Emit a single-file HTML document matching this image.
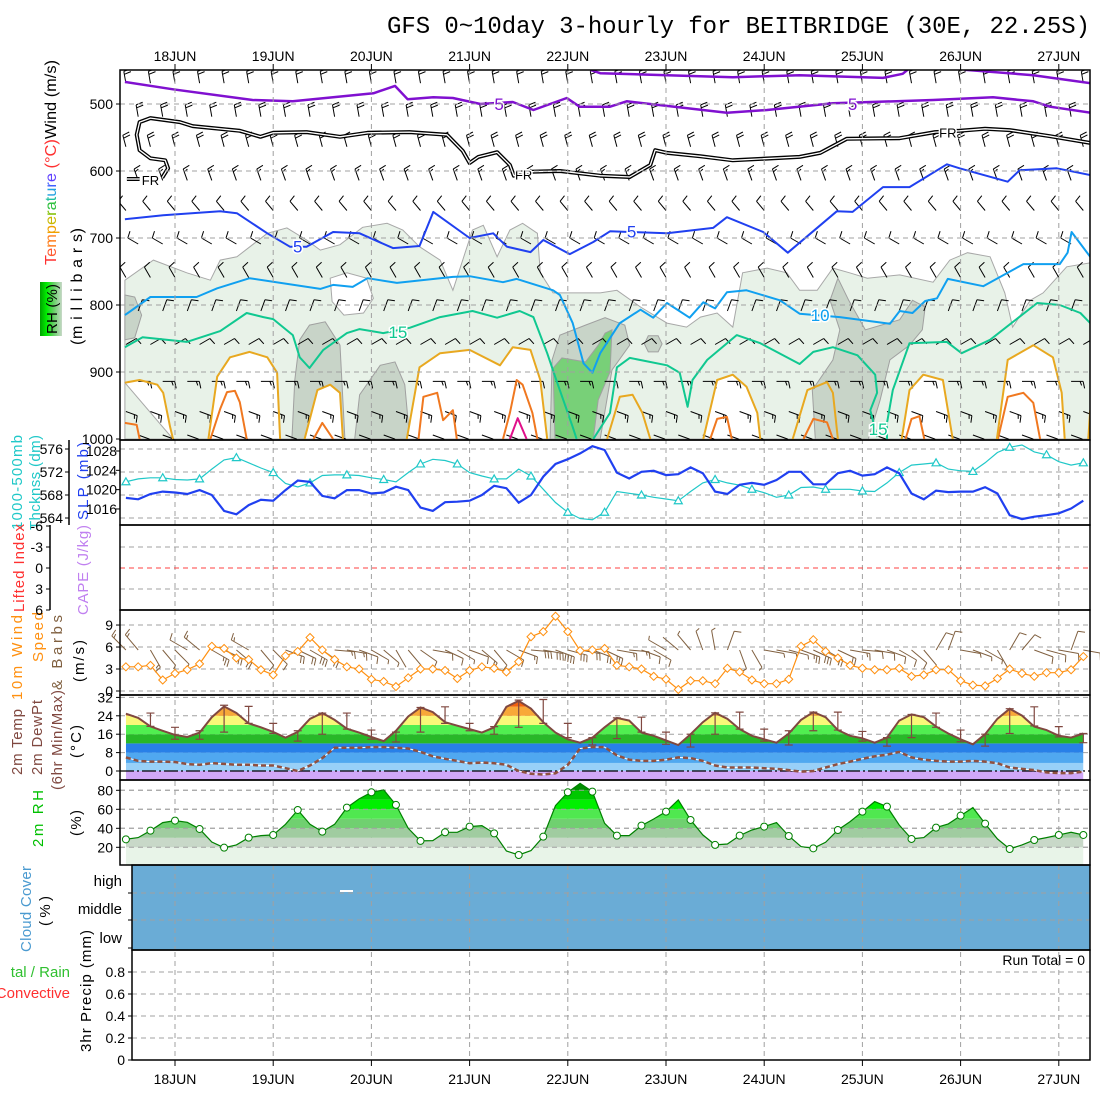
<!DOCTYPE html>
<html><head><meta charset="utf-8"><title>GFS meteogram BEITBRIDGE</title>
<style>
html,body{margin:0;padding:0;background:#fff;}
svg{display:block;font-family:"Liberation Sans",sans-serif;}
</style></head>
<body>
<svg id="chart" xmlns="http://www.w3.org/2000/svg" width="1100" height="1100" viewBox="0 0 1100 1100">
<defs>
<clipPath id="clipUp"><rect x="120" y="70" width="970" height="370"/></clipPath>
<linearGradient id="rhbox" x1="0" y1="0" x2="1" y2="0">
<stop offset="0" stop-color="#00a000"/><stop offset="0.3" stop-color="#00ee00"/><stop offset="0.6" stop-color="#60d060"/><stop offset="1" stop-color="#c8d8c8"/></linearGradient>
</defs>
<rect x="0" y="0" width="1100" height="1100" fill="#fff"/>
<text x="1090" y="33" text-anchor="end" font-family="Liberation Mono, monospace" font-size="24" textLength="703">GFS 0~10day 3-hourly for BEITBRIDGE (30E, 22.25S)</text>

<g font-size="16">
<text transform="translate(56,265) rotate(-90)" textLength="205" lengthAdjust="spacingAndGlyphs"><tspan fill="#ff3030">T</tspan><tspan fill="#ff5a30">e</tspan><tspan fill="#ff8020">m</tspan><tspan fill="#f0a000">p</tspan><tspan fill="#c8b800">e</tspan><tspan fill="#80c000">r</tspan><tspan fill="#30c040">a</tspan><tspan fill="#20c0a0">t</tspan><tspan fill="#20a0e0">u</tspan><tspan fill="#4060ff">r</tspan><tspan fill="#6040ff">e</tspan><tspan fill="#ff3030"> (°C)</tspan><tspan fill="#000">Wind (m/s)</tspan></text>
<text transform="translate(82,345) rotate(-90)" textLength="117" lengthAdjust="spacing">(m i l l i b a r s)</text>
<rect x="40" y="282" width="22" height="54" fill="url(#rhbox)"/>
<text transform="translate(57,334) rotate(-90)" font-size="15" textLength="50">RH (%)</text>
</g>
<g font-size="15">
<text transform="translate(22,530) rotate(-90)" fill="#20c8c8" textLength="95">1000-500mb</text>
<text transform="translate(40,530) rotate(-90)" fill="#20c8c8" textLength="95">Thcknss (dm)</text>
<text transform="translate(88,520) rotate(-90)" fill="#2040f0" textLength="78">SLP (mb)</text>
<text transform="translate(24,612) rotate(-90)" fill="#ff3030" textLength="88">Lifted Index</text>
<text transform="translate(88,615) rotate(-90)" fill="#c080f0" textLength="90">CAPE (J/kg)</text>
<text transform="translate(22,700) rotate(-90)" fill="#ff9010" textLength="85">10m Wind</text>
<text transform="translate(43,662) rotate(-90)" fill="#ff9010" textLength="50">Speed</text>
<text transform="translate(62,690) rotate(-90)" fill="#806040" textLength="75">&amp; Barbs</text>
<text transform="translate(84,682) rotate(-90)" fill="#000" textLength="42">(m/s)</text>
<text transform="translate(22,775) rotate(-90)" fill="#804840" textLength="66">2m Temp</text>
<text transform="translate(42,775) rotate(-90)" fill="#804840" textLength="75">2m DewPt</text>
<text transform="translate(62,790) rotate(-90)" fill="#804840" textLength="100">(6hr Min/Max)</text>
<text transform="translate(81,758) rotate(-90)" fill="#000" textLength="33">(°C)</text>
<text transform="translate(43,847) rotate(-90)" fill="#00c000" textLength="57">2m RH</text>
<text transform="translate(81,836) rotate(-90)" fill="#000" textLength="26">(%)</text>
<text transform="translate(31,952) rotate(-90)" fill="#4a9ad0" textLength="86">Cloud Cover</text>
<text transform="translate(50,926) rotate(-90)" fill="#000" textLength="30">(%)</text>
<text x="70" y="977" text-anchor="end" fill="#30c030">tal / Rain</text>
<text x="70" y="998" text-anchor="end" fill="#ff3030">Convective</text>
<text transform="translate(91,1052) rotate(-90)" fill="#000" textLength="122">3hr Precip (mm)</text>
<text x="122" y="886" text-anchor="end">high</text>
<text x="122" y="914" text-anchor="end">middle</text>
<text x="122" y="943" text-anchor="end">low</text>
<text x="1085" y="965" text-anchor="end" font-size="14">Run Total = 0</text>
</g>
<g id="plot"></g>
</svg>
<script>
// ---------------- data ----------------
const dayLabels = ["18JUN","19JUN","20JUN","21JUN","22JUN","23JUN","24JUN","25JUN","26JUN","27JUN"];
const pressureTicks = [500,600,700,800,900,1000];
const thickTicks = [576,572,568,564];
const slpTicks = [1028,1024,1020,1016];
const liTicks = [-6,-3,0,3,6];
const windTicks = [9,6,3,0];
const tempTicks = [32,24,16,8,0];
const rhTicks = [80,60,40,20];
const precipTicks = [0.8,0.6,0.4,0.2,0];

const thickness = [570.3,570.8,571.0,571.0,570.7,570.6,570.8,572.5,574.1,574.5,573.6,572.7,571.9,570.0,569.4,570.1,571.4,571.5,571.5,571.4,571.0,570.7,570.3,571.9,573.4,574.2,574.0,573.4,571.9,571.3,570.8,570.8,572.5,571.3,569.0,566.7,565.0,563.9,563.7,565.0,568.6,568.3,568.0,567.6,567.3,567.0,568.6,570.1,570.7,570.1,569.7,569.0,568.4,567.6,568.0,569.3,569.4,569.0,569.0,569.0,568.7,568.6,570.1,571.9,573.2,573.4,573.6,572.5,572.2,572.1,573.6,575.4,576.3,576.7,575.5,575.0,573.8,573.2,573.6];
const slp = [1018.3,1018.0,1019.1,1019.6,1019.4,1019.1,1019.9,1018.9,1015.6,1014.9,1016.8,1017.9,1017.7,1019.9,1021.9,1021.6,1018.7,1018.2,1019.9,1019.9,1019.2,1019.4,1020.6,1019.9,1016.3,1015.6,1017.4,1017.5,1017.7,1018.9,1020.8,1020.3,1017.3,1018.9,1022.7,1025.3,1026.3,1027.5,1029.0,1028.2,1023.5,1022.3,1023.7,1023.9,1023.0,1023.2,1024.6,1023.4,1019.6,1019.1,1021.0,1021.4,1021.0,1022.0,1023.7,1023.7,1021.1,1021.1,1023.4,1023.9,1022.9,1023.2,1024.6,1023.4,1019.2,1018.0,1019.8,1019.5,1019.6,1019.6,1020.5,1019.2,1014.7,1013.9,1014.4,1014.7,1015.1,1016.1,1017.7];
const windSpeed = [3.3,3.3,3.5,1.5,2.4,2.9,3.7,6.1,5.8,4.5,4.3,2.9,2.2,4.8,5.4,7.3,5.6,4.3,3.3,3.0,1.6,1.3,0.6,1.8,3.0,3.0,2.8,1.7,2.8,3.3,3.1,2.6,4.0,7.4,8.1,10.2,8.1,5.5,5.6,5.8,3.5,3.3,3.0,2.0,1.6,0.2,1.4,1.4,1.0,3.1,2.6,1.5,1.0,1.0,1.6,6.1,7.0,5.4,4.5,3.5,3.1,2.9,2.9,3.1,2.0,2.2,2.9,2.9,1.4,0.8,0.7,1.7,3.0,2.4,2.0,2.5,2.5,2.9,4.7];
const windDir10 = [315,320,150,140,135,300,310,120,115,130,300,140,135,110,115,120,125,95,100,110,120,130,150,140,125,100,115,120,110,130,140,120,110,95,100,110,105,100,110,115,100,95,110,120,300,310,320,340,350,20,160,150,100,100,105,110,115,120,115,100,95,100,110,120,130,140,30,20,100,110,120,150,30,40,110,105,100,20,100];
const temp2m = [24.9,23.1,19.4,17.5,15.7,14.8,16.7,23.4,28.1,25.2,20.7,19.0,17.0,14.5,17.0,22.7,25.2,22.2,18.4,16.7,14.8,13.0,17.5,23.7,27.6,25.6,21.2,19.7,18.2,16.7,19.0,27.9,30.5,27.1,21.2,16.7,13.8,12.3,14.5,19.0,23.1,21.9,16.7,15.3,13.3,11.3,16.0,21.2,25.3,22.7,18.2,15.3,13.8,12.3,16.3,22.2,25.6,23.4,17.8,15.3,14.2,12.3,14.5,21.9,24.6,23.4,19.3,16.3,13.8,11.6,16.0,22.7,27.1,24.1,19.3,17.8,15.3,14.5,16.3];
const dewPt2m = [5.9,4.4,4.1,4.1,3.9,3.0,2.7,3.4,3.1,2.7,2.7,2.4,2.4,1.2,0.0,2.4,5.6,10.1,10.1,10.1,10.4,10.4,10.1,9.8,8.3,6.4,5.3,4.4,3.4,3.7,3.4,2.7,0.0,-1.2,-1.5,-1.0,2.7,9.8,10.4,10.4,6.8,4.9,4.4,4.4,4.9,5.9,5.6,4.4,2.4,1.5,1.5,1.5,1.2,0.9,0.4,-0.3,0.0,1.5,3.0,4.1,5.3,6.4,7.1,8.3,5.9,4.9,4.4,4.1,4.1,4.4,4.1,3.4,1.5,0.9,0.4,-0.6,-0.9,-0.9,-0.3];
const barIdx = [2,4,6,8,10,12,14,16,18,20,22,24,26,28,30,32,34,36,38,40,42,44,46,48,50,52,54,56,58,60,62,64,66,68,70,72,74,76,78];
const barHi = [25.2,19.0,17.5,28.6,28.1,20.7,17.5,25.2,25.2,17.8,16.9,27.6,27.9,20.7,19.3,30.8,31.1,20.7,14.5,23.1,23.4,16.9,16.0,25.3,25.6,18.2,17.5,25.6,25.6,17.2,14.5,24.6,25.2,17.8,16.0,27.1,27.9,19.3,16.3];
const barLo = [19.4,13.8,13.8,16.9,20.7,16.3,13.0,16.0,18.2,13.8,12.6,16.9,20.7,17.5,16.0,19.0,20.7,14.5,11.3,14.1,16.9,11.6,10.4,16.0,18.2,13.0,11.3,17.5,17.8,13.0,10.8,14.5,19.0,12.7,10.8,16.3,19.6,14.8,12.3];
const rh2m = [28.4,30.2,37.5,46.0,48.1,46.3,39.3,25.6,19.6,22.5,30.2,32.3,33.0,44.2,59.3,44.2,36.5,44.2,61.8,70.9,77.9,80.4,64.6,40.0,26.7,27.0,35.8,35.8,41.8,42.8,34.7,16.1,11.9,16.5,31.2,63.9,77.9,87.4,78.6,45.3,32.3,32.3,42.8,49.8,57.5,69.8,48.8,33.0,22.5,23.5,32.3,38.2,41.8,46.0,31.9,20.7,18.9,25.3,38.2,47.0,57.5,68.1,62.8,43.5,28.8,30.2,40.7,44.6,53.3,61.8,44.9,28.8,18.2,22.5,27.7,30.2,33.0,35.8,33.0];

// upper-air wind per level
const barbLevels = [460,510,555,605,650,700,750,800,850,905,950,985];
const barbDirs = [350,350,345,340,320,300,330,20,60,90,110,110];
const barbSpeeds = [10,10,10,7.5,5,5,5,5,5,7.5,7.5,5];

// contours as [day offset from 18JUN00, hPa]
const isoM5 = [[-0.51,467],[-0.02,478],[0.79,494],[1.20,496],[2.02,484],[2.24,473],[2.37,493],[2.63,490],[2.83,491],[3.11,500],[3.44,497],[3.65,509],[3.99,491],[4.12,504],[4.43,504],[4.60,496],[5.62,513],[6.03,509],[6.70,499],[7.72,494],[8.33,490],[8.74,496],[8.91,504],[9.32,513]];
const isoM10a = [[4.23,449],[4.33,454],[5.01,457],[5.68,460],[6.36,457],[7.21,461],[7.41,455],[7.46,449]];
const isoM10b = [[8.04,449],[8.74,457],[9.32,469]];
const isoFR = [[-0.13,610],[-0.07,596],[-0.10,584],[-0.25,581],[-0.36,569],[-0.39,546],[-0.36,527],[-0.25,521],[0.05,527],[0.18,533],[0.66,540],[0.87,549],[1.0,543],[1.34,542],[1.68,549],[1.96,543],[2.39,542],[2.77,546],[2.93,570],[3.0,588],[3.09,579],[3.28,572],[3.41,591],[3.45,607],[3.62,601],[3.92,600],[4.33,607],[4.63,609],[4.84,591],[4.89,569],[5.01,573],[5.35,578],[5.68,584],[6.36,579],[6.57,573],[6.84,552],[7.38,551],[7.74,542],[7.99,540],[8.25,537],[8.50,539],[8.91,548],[9.32,558]];
const isoFRstub = [[-0.49,612],[-0.36,612]];
const iso5 = [[-0.51,672],[-0.12,666],[0.46,660],[0.63,663],[0.94,693],[1.17,713],[1.34,713],[1.61,691],[1.88,693],[2.22,715],[2.49,712],[2.63,661],[3.0,700],[3.24,693],[3.38,713],[3.62,721],[3.75,703],[4.02,724],[4.26,706],[4.43,690],[5.01,693],[5.48,685],[5.62,669],[5.99,691],[6.24,722],[6.74,660],[6.90,661],[7.21,624],[7.48,624],[7.86,590],[7.99,596],[8.48,616],[8.60,599],[8.98,596],[9.32,606]];
const iso10 = [[-0.51,815],[-0.25,788],[0.22,788],[0.43,775],[0.76,760],[1.48,776],[1.61,770],[1.81,773],[1.96,760],[2.26,767],[2.83,758],[3.0,757],[3.34,766],[3.48,761],[3.85,778],[3.92,785],[4.05,827],[4.16,887],[4.25,901],[4.33,872],[4.53,827],[4.74,807],[4.87,819],[5.01,797],[5.24,819],[5.38,796],[5.50,805],[5.62,781],[5.82,778],[6.16,793],[6.36,813],[6.77,818],[7.28,828],[7.38,809],[7.51,812],[7.64,794],[7.76,790],[7.87,761],[8.23,772],[8.64,739],[9.01,739],[9.09,722],[9.13,691],[9.32,728]];
const iso15a = [[-0.51,863],[-0.33,848],[0.12,855],[0.46,839],[0.73,812],[0.90,818],[1.0,821],[1.20,845],[1.27,878],[1.37,894],[1.51,867],[1.75,842],[1.88,836],[2.12,842],[2.39,834],[2.70,818],[3.03,809],[3.28,819],[3.51,809],[3.65,818],[3.79,872],[3.89,915],[4.05,982],[4.09,1000]];
const iso15b = [[4.26,1000],[4.43,961],[4.50,893],[4.63,879],[5.01,890],[5.14,901],[5.22,952],[5.27,912],[5.42,882],[5.72,845],[5.96,857],[6.36,888],[6.50,870],[6.70,863],[6.95,875],[7.13,904],[7.15,931],[7.08,957],[7.15,997]];
const iso15c = [[7.25,1000],[7.25,976],[7.31,927],[7.48,857],[7.86,855],[8.01,872],[8.30,852],[8.78,797],[9.01,800],[9.22,812],[9.32,827]];
const iso20 = [
 [[-0.51,916],[-0.36,912],[-0.18,919],[-0.12,931],[-0.05,982],[-0.02,1000]],
 [[0.34,1000],[0.43,907],[0.56,878],[0.76,870],[0.94,878],[1.04,901],[1.07,1000]],
 [[1.32,1000],[1.45,927],[1.58,919],[1.68,931],[1.71,1000]],
 [[2.36,1000],[2.49,893],[2.70,872],[3.0,867],[3.31,890],[3.44,863],[3.62,867],[3.72,912],[3.79,1000]],
 [[4.40,1000],[4.53,937],[4.66,934],[4.76,961],[4.84,1000]],
 [[5.38,1000],[5.52,912],[5.68,904],[5.82,922],[5.93,961],[5.96,1000]],
 [[6.29,1000],[6.44,927],[6.64,915],[6.70,931],[6.75,1000]],
 [[7.40,1000],[7.48,927],[7.62,904],[7.82,912],[7.92,1000]],
 [[8.37,1000],[8.48,882],[8.74,860],[8.94,878],[9.03,931],[9.06,1000]],
 [[9.30,1000],[9.32,957]]];
const iso25 = [
 [[-0.51,976],[-0.39,979],[-0.36,1000]],
 [[0.36,1000],[0.46,955],[0.53,930],[0.61,928],[0.66,945],[0.73,1000]],
 [[1.41,1000],[1.50,976],[1.61,1000]],
 [[2.48,1000],[2.53,937],[2.67,931],[2.73,972],[2.83,957],[2.87,1000]],
 [[3.34,1000],[3.41,961],[3.48,912],[3.54,919],[3.64,961],[3.69,1000]],
 [[5.45,1000],[5.52,970],[5.62,967],[5.67,1000]],
 [[6.40,1000],[6.50,970],[6.64,975],[6.70,1000]],
 [[7.44,1000],[7.50,970],[7.58,966],[7.63,1000]],
 [[8.38,1000],[8.48,937],[8.64,931],[8.74,946],[8.81,1000]]];
const iso30 = [[3.41,1000],[3.49,969],[3.58,1000]];
const rhLightTop = [[-0.51,763],[-0.22,733],[0.12,752],[0.36,763],[0.46,733],[0.63,728],[0.94,693],[1.14,685],[1.34,703],[1.48,718],[1.68,710],[1.91,684],[2.16,678],[2.32,688],[2.49,713],[2.70,733],[2.83,778],[2.93,733],[3.03,688],[3.14,681],[3.28,728],[3.41,688],[3.54,678],[3.69,693],[3.72,752],[3.85,782],[4.33,782],[4.50,778],[4.74,803],[5.01,827],[5.21,833],[5.35,818],[5.52,812],[5.68,833],[5.78,752],[6.03,745],[6.23,752],[6.36,778],[6.54,778],[6.70,745],[6.87,752],[7.05,760],[7.38,755],[7.72,766],[7.89,733],[8.07,722],[8.30,728],[8.45,782],[8.53,833],[8.71,793],[8.84,782],[9.08,743],[9.32,737]];
const rhHole = [[1.58,760],[1.75,752],[1.95,760],[2.02,790],[1.92,812],[1.72,815],[1.6,795]];
const rhGrey = [
 [[1.19,1000],[1.22,912],[1.27,852],[1.37,830],[1.53,825],[1.68,860],[1.73,1000]],
 [[1.83,1000],[1.88,934],[2.09,890],[2.24,885],[2.34,919],[2.39,1000]],
 [[3.82,1000],[3.84,882],[3.92,845],[4.18,830],[4.38,819],[4.58,830],[4.63,860],[4.45,897],[4.33,1000]],
 [[6.52,1000],[6.49,927],[6.70,882],[6.77,837],[6.67,793],[6.75,760],[6.86,793],[7.03,837],[7.38,822],[7.51,793],[7.64,803],[7.61,837],[7.48,860],[7.28,882],[7.18,942],[7.06,1000]],
 [[-0.51,785],[-0.41,788],[-0.34,815],[-0.41,849],[-0.51,852]],
 [[4.78,858],[4.82,846],[4.92,846],[4.96,858],[4.92,870],[4.82,870]]];
const rhGreen = [[3.87,1000],[3.85,894],[3.94,879],[4.18,885],[4.31,860],[4.38,842],[4.45,837],[4.43,900],[4.31,942],[4.26,1000]];
const whiteArches = [0,1,2,3,5,7,8];

// ---------------- scales ----------------
const XD = d => 175 + d*98.2;
const X = i => XD(-0.5 + i/8);
const Yp = p => 104 + (p-500)*0.67;
const Yth = v => 449 + (576-v)*5.75;
const Ys = v => 451 + (1028-v)*4.83;
const Yli = v => 568 + v*7;
const Yw = v => 691 - v*7.33;
const Yt = v => 771 - v*2.3;
const Yr = v => 866.3 - v*0.95;
const Ypr = v => 1060 - v*110;

const NS = 'http://www.w3.org/2000/svg';
const root = document.getElementById('plot');
function mk(tag, attrs, parent){
  const e = document.createElementNS(NS, tag);
  for (const k in attrs) e.setAttribute(k, attrs[k]);
  (parent||root).appendChild(e);
  return e;
}
const ptsDP = arr => arr.map(q => XD(q[0]).toFixed(1)+','+Yp(q[1]).toFixed(1)).join(' ');
const ptsSeries = (arr, fy) => arr.map((v,i) => X(i).toFixed(1)+','+fy(v).toFixed(1)).join(' ');

// ---------------- upper panel shading ----------------
const up = mk('g', {'clip-path':'url(#clipUp)'});


const lightPoly = rhLightTop.concat([[9.32,1000],[-0.51,1000]]);
let e = mk('polygon', {points: ptsDP(lightPoly), fill:'#e8f2e8', stroke:'#a8a8a8', 'stroke-width':1}, up);


for (const g of rhGrey) {
  e = mk('polygon', {points: ptsDP(g), fill:'#c8d4c8', stroke:'#a0a0a0', 'stroke-width':1}, up);
  
  
}
e = mk('polygon', {points: ptsDP(rhGreen), fill:'#78d078', stroke:'#a0a0a0', 'stroke-width':1}, up);


for (const k of whiteArches) {
  e = mk('polygon', {points: ptsDP(iso20[k]), fill:'#fff', stroke:'#a8a8a8', 'stroke-width':1}, up);
  
  
}
e = mk('polygon', {points: ptsDP(rhHole), fill:'#fff', stroke:'#a8a8a8', 'stroke-width':1}, up);



// grid
const grid = mk('g', {stroke:'#a0a0a0', 'stroke-width':1, 'stroke-dasharray':'5,4', fill:'none'});


for (let k = 0; k < dayLabels.length; k++) {
  e = mk('line', {x1:XD(k), x2:XD(k), y1:70, y2:1060}, grid);
  
  
}
function hgrid(y, x0){ const l = mk('line', {x1:x0||120, x2:1090, y1:y, y2:y}, grid);
  
   }
pressureTicks.slice(0,5).forEach(p => hgrid(Yp(p)));
thickTicks.forEach(v => hgrid(Yth(v)));
[-3,3].forEach(v => hgrid(Yli(v)));
windTicks.forEach(v => hgrid(Yw(v)));
tempTicks.slice(0,4).forEach(v => hgrid(Yt(v)));
rhTicks.forEach(v => hgrid(Yr(v)));
precipTicks.slice(0,4).forEach(v => hgrid(Ypr(v), 132));

// wind barbs
function barb(parent, x, y, dir, spd, L, color, name){
  const r = dir*Math.PI/180;
  const ux = Math.sin(r), uy = -Math.cos(r);
  const tx = x + ux*L, ty = y + uy*L;
  let d = 'M'+x.toFixed(1)+','+y.toFixed(1)+'L'+tx.toFixed(1)+','+ty.toFixed(1);
  const px = -uy, py = ux;
  let n = Math.round(spd/2.5), pos = 0;
  while (n > 0) {
    const bx = tx - ux*pos, by = ty - uy*pos;
    const bl = n >= 2 ? 7 : 4;
    d += 'M'+bx.toFixed(1)+','+by.toFixed(1)+'l'+((px*bl+ux*1.5)).toFixed(1)+','+((py*bl+uy*1.5)).toFixed(1);
    n -= 2; pos += 3;
  }
  const b = mk('path', {d:d, stroke:color, 'stroke-width':1, fill:'none'}, parent);
  
  
}
const barbG = mk('g', {}, up);


barbLevels.forEach((lev, li) => {
  for (let i = li % 2; i < 79; i += 2) {
    barb(barbG, X(i), Yp(lev)+6, barbDirs[li], barbSpeeds[li], 12, '#000', 'upper-wind-barb');
  }
});

// contour lines
function cline(arr, color, w, name){
  const l = mk('polyline', {points: ptsDP(arr), fill:'none', stroke:color, 'stroke-width':w, 'stroke-linejoin':'round'}, up);
  
  
}
iso25.forEach(a => cline(a, '#f07820', 2, 'isotherm-25c'));
iso20.forEach(a => cline(a, '#e8a820', 2, 'isotherm-20c'));
cline(iso30, '#e0108a', 2, 'isotherm-30c');
[iso15a, iso15b, iso15c].forEach(a => cline(a, '#10c890', 2, 'isotherm-15c'));
cline(iso10, '#10a0f0', 2, 'isotherm-10c');
cline(iso5, '#2040f0', 2, 'isotherm-5c');
cline(isoFR, '#000', 4, 'freezing-level-outer');
cline(isoFR, '#fff', 1.3, 'freezing-level-inner');
cline(isoFRstub, '#000', 4, 'freezing-level-stub');
cline(isoFRstub, '#fff', 1.3, 'freezing-level-stub-inner');
cline(isoM5, '#8010d0', 2.5, 'isotherm-minus5c');
cline(isoM10a, '#8010d0', 2.5, 'isotherm-minus10c');
cline(isoM10b, '#8010d0', 2.5, 'isotherm-minus10c');

const clabels = [
  ['5', 3.30, 500, '#8010d0'], ['5', 6.90, 500, '#8010d0'],
  ['FR', -0.25, 612, '#000'], ['FR', 3.55, 604, '#000'], ['FR', 7.87, 541, '#000'],
  ['5', 1.25, 713, '#2040f0'], ['5', 4.65, 690, '#2040f0'],
  ['10', 6.57, 815, '#10a0f0'], ['15', 2.27, 840, '#10c890'], ['15', 7.16, 985, '#10c890']
];
clabels.forEach(c => {
  const t = mk('text', {x: XD(c[1]), y: Yp(c[2])+6, 'text-anchor':'middle', fill:c[3], 'font-size': c[3]==='#000'?13:17, stroke:'#fff', 'stroke-width':3, 'paint-order':'stroke'}, up);
  t.textContent = c[0];
  
  
});

// ---------------- thickness / SLP ----------------
e = mk('polyline', {points: ptsSeries(thickness, Yth), fill:'none', stroke:'#20c8c8', 'stroke-width':1.2});


thickness.forEach((v,i) => {
  if (i % 3 !== 0) return;
  const x = X(i), y = Yth(v);
  const t = mk('polygon', {points:`${x},${y-4} ${x-4},${y+3} ${x+4},${y+3}`, fill:'#fff', stroke:'#20c8c8', 'stroke-width':1.2});
  
  
});
e = mk('polyline', {points: ptsSeries(slp, Ys), fill:'none', stroke:'#2040f0', 'stroke-width':2.2});



e = mk('line', {x1:120, x2:1090, y1:Yli(0), y2:Yli(0), stroke:'#ff4040', 'stroke-width':1, 'stroke-dasharray':'5,4'});



// ---------------- 10m wind ----------------
windDir10.forEach((dd,i) => {
  barb(root, X(i), Yw(6)+3, dd, windSpeed[i]*2, 20, '#806040', 'wind10-barb');
});
e = mk('polyline', {points: ptsSeries(windSpeed, Yw), fill:'none', stroke:'#ff9010', 'stroke-width':1.2});


windSpeed.forEach((v,i) => {
  const x = X(i), y = Yw(v);
  const m = mk('polygon', {points:`${x},${y-4} ${x+4},${y} ${x},${y+4} ${x-4},${y}`, fill:'#fff', stroke:'#ff9010', 'stroke-width':1});
  
  
});

// ---------------- 2m temp ----------------
const tBands = [[-10,0,'#d0a8f8'],[0,3.5,'#98d0f8'],[3.5,8,'#50a8f0'],[8,12,'#2880e8'],[12,16,'#28b828'],[16,20,'#50ee50'],[20,24,'#f8f878'],[24,28,'#f8a838'],[28,40,'#f06010']];
const cpT = mk('clipPath', {id:'clipT'});
mk('polygon', {points: ptsSeries(temp2m, Yt) + ` ${X(78)},780 ${X(0)},780`}, cpT);
const tg = mk('g', {'clip-path':'url(#clipT)'});


tBands.forEach(b => {
  const r = mk('rect', {x:X(0), width:X(78)-X(0), y:Math.max(Yt(b[1]),695), height:Math.min(Yt(b[0]),780)-Math.max(Yt(b[1]),695), fill:b[2]}, tg);
  
  
});
e = mk('line', {x1:120, x2:1090, y1:Yt(0), y2:Yt(0), stroke:'#000', 'stroke-width':1.2, 'stroke-dasharray':'14,3,2,3'});


e = mk('polyline', {points: ptsSeries(dewPt2m, Yt), fill:'none', stroke:'#fff', 'stroke-width':1});


e = mk('polyline', {points: ptsSeries(dewPt2m, Yt), fill:'none', stroke:'#905040', 'stroke-width':2.5, 'stroke-dasharray':'5,3'});


e = mk('polyline', {points: ptsSeries(temp2m, Yt), fill:'none', stroke:'#804840', 'stroke-width':2});


barIdx.forEach((ix,k) => {
  const x = X(ix), y1 = Yt(barHi[k]), y2 = Yt(barLo[k]);
  const b = mk('path', {d:`M${x},${y1}V${y2}M${x-4},${y1}h8M${x-4},${y2}h8`, stroke:'#804840', 'stroke-width':1.2, fill:'none'});
  
  
});

// ---------------- 2m RH ----------------
const rBands = [[0,20,'#e8f4e8'],[20,30,'#c8d8c8'],[30,40,'#a0cca0'],[40,50,'#70d070'],[50,60,'#50e850'],[60,70,'#00f000'],[70,80,'#00c800'],[80,100,'#009000']];
const cpR = mk('clipPath', {id:'clipR'});
mk('polygon', {points: ptsSeries(rh2m, Yr) + ` ${X(78)},865 ${X(0)},865`}, cpR);
const rg = mk('g', {'clip-path':'url(#clipR)'});


rBands.forEach(b => {
  const r = mk('rect', {x:X(0), width:X(78)-X(0), y:Math.max(Yr(b[1]),780), height:Math.min(Yr(b[0]),865)-Math.max(Yr(b[1]),780), fill:b[2]}, rg);
  
  
});
rhTicks.forEach(v => { const l = mk('line', {x1:120, x2:1090, y1:Yr(v), y2:Yr(v), stroke:'#a0a0a0', 'stroke-dasharray':'5,4'});
  
   });
e = mk('polyline', {points: ptsSeries(rh2m, Yr), fill:'none', stroke:'#008000', 'stroke-width':1.2});


rh2m.forEach((v,i) => {
  if (i % 2 !== 0 && i !== 78) return;
  const c = mk('circle', {cx:X(i), cy:Yr(v), r:3.5, fill:'#fff', stroke:'#008000', 'stroke-width':1});
  
  
});

// ---------------- cloud ----------------
e = mk('rect', {x:132, y:865, width:958, height:85, fill:'#6aacd6'});


[893,920].forEach(y => { const l = mk('line', {x1:132, x2:1090, y1:y, y2:y, stroke:'#a0a0a0', 'stroke-dasharray':'5,4'});
  
   });
for (let k = 0; k < dayLabels.length; k++) { const l = mk('line', {x1:XD(k), x2:XD(k), y1:865, y2:950, stroke:'#a0a0a0', 'stroke-dasharray':'5,4'});
  
   }
e = mk('rect', {x:340, y:890, width:13, height:2, fill:'#fff'});



// ---------------- frames, axes, ticks ----------------
const fr = mk('g', {stroke:'#000', 'stroke-width':1.5, fill:'none'});


[[120,70,440],[120,440,525],[120,525,610],[120,610,695],[120,695,780],[120,780,865],[132,865,950],[132,950,1060]].forEach(f => {
  const r = mk('rect', {x:f[0], y:f[1], width:1090-f[0], height:f[2]-f[1]}, fr);
  
  
});
e = mk('line', {x1:69, x2:69, y1:440, y2:525}, fr);


e = mk('line', {x1:50, x2:50, y1:525, y2:610}, fr);



const tk = mk('g', {'font-size':14, fill:'#000'});


function tick(x, y, txt, ax){
  const t = mk('text', {x:x, y:y+5, 'text-anchor':'end'}, tk); t.textContent = txt;
  
  
  const l = mk('line', {x1:ax-4, x2:ax, y1:y, y2:y, stroke:'#000'}, tk);
  
  
}
pressureTicks.forEach(p => tick(113, Yp(p), p, 120));
thickTicks.forEach(v => tick(63, Yth(v), v, 69));
slpTicks.forEach(v => tick(117, Ys(v), v, 120));
liTicks.forEach(v => tick(43, Yli(v), String(v), 50));
windTicks.forEach(v => tick(113, Yw(v), v, 120));
tempTicks.forEach(v => tick(113, Yt(v), v, 120));
rhTicks.forEach(v => tick(113, Yr(v), v, 120));
precipTicks.forEach(v => tick(125, Ypr(v), v === 0 ? '0' : v.toFixed(1), 132));
[893,920,948].forEach(y => { const l = mk('line', {x1:128, x2:132, y1:y, y2:y, stroke:'#000'}, tk);
  
   });

dayLabels.forEach((lab,k) => {
  const t1 = mk('text', {x:XD(k), y:61, 'text-anchor':'middle', 'font-size':14}, tk); t1.textContent = lab;
  
  
  const t2 = mk('text', {x:XD(k), y:1084, 'text-anchor':'middle', 'font-size':14}, tk); t2.textContent = lab;
  
  
  const m1 = mk('line', {x1:XD(k), x2:XD(k), y1:64, y2:70, stroke:'#000'}, tk);
  
  
  const m2 = mk('line', {x1:XD(k), x2:XD(k), y1:1060, y2:1066, stroke:'#000'}, tk);
  
  
});
</script>
</body></html>
